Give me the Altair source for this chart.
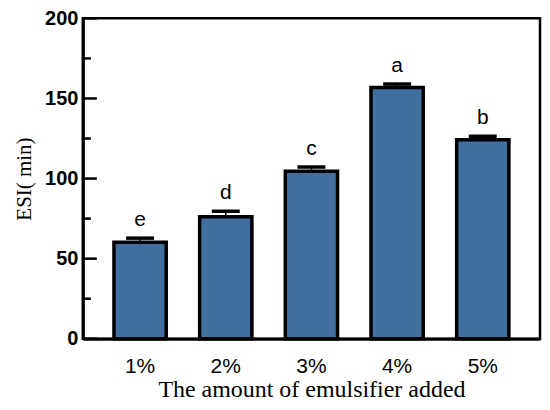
import altair as alt
import pandas as pd

categories = ["1%", "2%", "3%", "4%", "5%"]
esi_values = [60.2, 76.1, 104.6, 156.8, 124.2]
esi_errors = [2.6, 3.5, 2.6, 2.2, 2.2]
letters = ["e", "d", "c", "a", "b"]
major_ticks = [0, 50, 100, 150, 200]
minor_ticks = [25, 75, 125, 175]

df = pd.DataFrame({"cat": categories, "val": esi_values, "err": esi_errors, "lab": letters})
df["upper"] = df["val"] + df["err"]
ticks_major = pd.DataFrame({"v": major_ticks})
ticks_minor = pd.DataFrame({"v": minor_ticks})

xscale = alt.Scale(paddingInner=0.39, paddingOuter=0.363)
yscale = alt.Scale(domain=[0, 200], nice=False)

x_enc = alt.X("cat:N", scale=xscale, sort=categories,
              axis=alt.Axis(title="The amount of emulsifier added", labelAngle=0, ticks=False,
                            labelPadding=17, labelFont="Liberation Sans", labelFontSize=21,
                            labelColor="black", titleFont="Liberation Serif", titleFontSize=24,
                            titleFontWeight="normal", titleColor="black", titlePadding=1,
                            domainColor="black", domainWidth=3))
y_enc = alt.Y("val:Q", scale=yscale,
              axis=alt.Axis(title="ESI( min)", values=major_ticks, ticks=False, grid=False,
                            labelPadding=5, labelFont="Liberation Sans", labelFontSize=20,
                            labelFontWeight="bold", labelColor="black",
                            titleFont="Liberation Serif", titleFontSize=21,
                            titleFontWeight="normal", titleColor="black", titlePadding=10,
                            domainColor="black", domainWidth=3))

base = alt.Chart(df)
bars = base.mark_bar(color="#416f9f", stroke="black", strokeWidth=3.5).encode(x=x_enc, y=y_enc)
stems = base.mark_rule(color="black", strokeWidth=1.5).encode(
    x=alt.X("cat:N", sort=categories), y="val:Q", y2="upper:Q")
caps = base.mark_tick(color="black", size=28, thickness=3.5, opacity=1).encode(
    x=alt.X("cat:N", sort=categories), y="upper:Q")
texts = base.mark_text(font="Liberation Sans", fontSize=21, color="black",
                       baseline="alphabetic", dy=-12).encode(
    x=alt.X("cat:N", sort=categories), y="upper:Q", text="lab:N")

tmaj = alt.Chart(ticks_major).mark_rule(color="black", strokeWidth=2.5).encode(
    y="v:Q", x=alt.value(0), x2=alt.value(14))
tmin = alt.Chart(ticks_minor).mark_rule(color="black", strokeWidth=2.5).encode(
    y="v:Q", x=alt.value(0), x2=alt.value(8))

chart = alt.layer(bars, stems, caps, texts, tmaj, tmin).properties(
    width=458, height=321,
    autosize=alt.AutoSizeParams(type="none"),
    padding={"left": 75, "top": 10, "right": 2, "bottom": 70},
).configure_view(stroke="black", strokeWidth=2.5)

chart.save("out.html", embed_options={"renderer": "svg", "actions": False})
